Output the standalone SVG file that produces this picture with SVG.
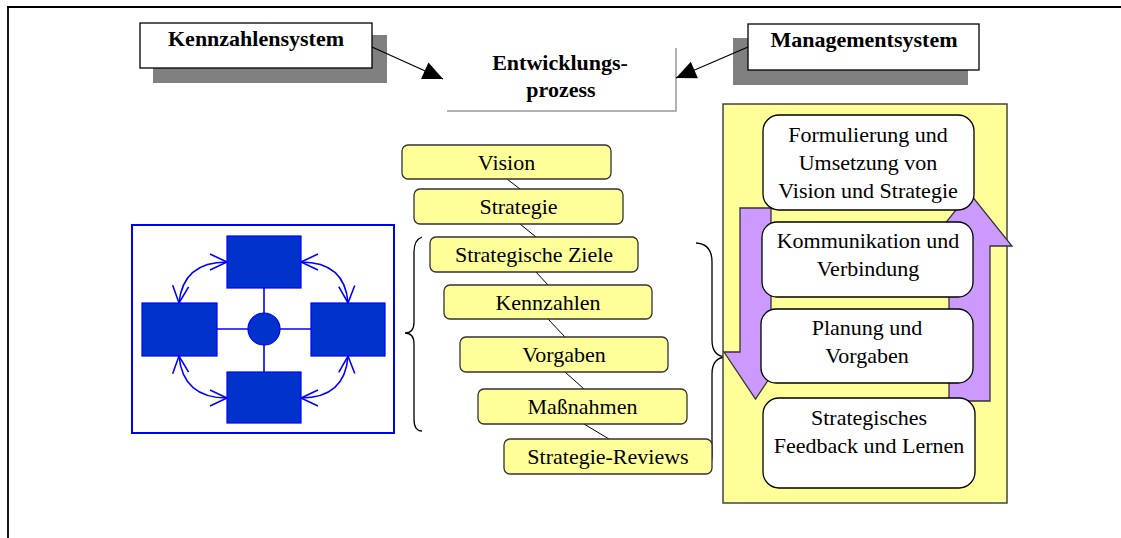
<svg xmlns="http://www.w3.org/2000/svg" width="1121" height="538" viewBox="0 0 1121 538">
  <style>
    text { font-family: "Liberation Serif", "Times New Roman", serif; font-size: 22px; fill: #000; text-anchor: middle; }
    .bold { font-weight: bold; }
    .head { fill: #fff; stroke: #000; stroke-width: 1.3; }
    .shadow { fill: #808080; }
    .step { fill: #ffff99; stroke: #333; stroke-width: 1.3; }
    .phase { fill: #fff; stroke: #000; stroke-width: 1.3; }
    .chain { stroke: #000; stroke-width: 1; fill: none; }
    .brace { stroke: #000; stroke-width: 1.3; fill: none; }
    .blk { fill: #0033cc; stroke: #0000ff; stroke-width: 1.2; }
    .loop { stroke: #0000ff; stroke-width: 1.6; fill: none; marker-start: url(#vee); marker-end: url(#vee); }
    .flow { fill: #cc99ff; stroke: #333; stroke-width: 1.3; }
  </style>
  <defs>
    <marker id="tri" markerUnits="userSpaceOnUse" markerWidth="24" markerHeight="22" viewBox="-22 -11 24 22" refX="0" refY="0" orient="auto">
      <path d="M0,0 L-20,-9 L-20,9 Z" fill="#000"/>
    </marker>
    <marker id="vee" markerUnits="userSpaceOnUse" markerWidth="22" markerHeight="22" viewBox="-20 -11 22 22" refX="0" refY="0" orient="auto-start-reverse">
      <path d="M-17,-8 L0,0 L-17,8" fill="none" stroke="#0000ff" stroke-width="1.6"/>
    </marker>
  </defs>

  <!-- page frame -->
  <g id="frame">
    <line x1="7" y1="7" x2="1121" y2="7" stroke="#000" stroke-width="2.2"/>
    <line x1="8" y1="6" x2="8" y2="538" stroke="#000" stroke-width="1.8"/>
  </g>

  <!-- header boxes -->
  <g id="kennzahlensystem">
    <rect class="shadow" x="153" y="35" width="234" height="48"/>
    <rect class="head" x="140" y="23" width="232" height="45"/>
    <text class="bold" x="256" y="46">Kennzahlensystem</text>
  </g>
  <g id="managementsystem">
    <rect class="shadow" x="733" y="38" width="235" height="47"/>
    <rect class="head" x="748" y="24" width="231" height="46"/>
    <text class="bold" x="864" y="47">Managementsystem</text>
  </g>
  <g id="entwicklungsprozess">
    <path d="M447,111 L676,111 L676,48" fill="none" stroke="#999" stroke-width="1.5"/>
    <text class="bold" x="560" y="70">Entwicklungs-</text>
    <text class="bold" x="561" y="97">prozess</text>
  </g>

  <!-- connectors -->
  <g id="connectors">
    <line x1="372" y1="47" x2="443" y2="79" stroke="#000" stroke-width="1.2" marker-end="url(#tri)"/>
    <line x1="748" y1="47" x2="676" y2="78" stroke="#000" stroke-width="1.2" marker-end="url(#tri)"/>
    <line class="chain" x1="507" y1="179" x2="520" y2="189"/>
    <line class="chain" x1="520" y1="224" x2="536" y2="237"/>
    <line class="chain" x1="536" y1="272" x2="548" y2="285"/>
    <line class="chain" x1="548" y1="319" x2="565" y2="337"/>
    <line class="chain" x1="565" y1="372" x2="584" y2="389"/>
    <line class="chain" x1="584" y1="424" x2="609" y2="439"/>
  </g>

  <!-- network sketch -->
  <g id="network">
    <rect x="132" y="225" width="262" height="208" fill="#fff" stroke="#0000ff" stroke-width="2"/>
    <line x1="264" y1="288" x2="264" y2="372" stroke="#0000ff" stroke-width="1.6"/>
    <line x1="217" y1="329" x2="311" y2="329" stroke="#0000ff" stroke-width="1.6"/>
    <rect class="blk" x="227" y="236" width="74" height="52"/>
    <rect class="blk" x="142" y="303" width="75" height="53"/>
    <rect class="blk" x="311" y="303" width="74" height="53"/>
    <rect class="blk" x="227" y="372" width="74" height="51"/>
    <circle class="blk" cx="264" cy="329" r="16"/>
    <path class="loop" d="M179,303 Q183,262 227,262"/>
    <path class="loop" d="M301,262 Q345,262 348,303"/>
    <path class="loop" d="M179,356 Q183,398 227,398"/>
    <path class="loop" d="M348,356 Q345,398 301,398"/>
  </g>

  <!-- braces -->
  <g id="braces">
    <path class="brace" d="M422,237 Q414,240 414,252 L414,322 Q414,333 405,333 Q414,333 414,344 L414,419 Q414,431 422,431"/>
    <path class="brace" d="M696,243 Q712,244 712,262 L712,340 Q712,357 727,357 Q712,357 712,374 L712,456 Q712,472 697,473"/>
  </g>

  <!-- step chain -->
  <g id="vision"><rect class="step" x="402" y="145" width="209" height="34" rx="6"/><text x="506.5" y="169.5">Vision</text></g>
  <g id="strategie"><rect class="step" x="414" y="189" width="209" height="35" rx="6"/><text x="518.5" y="214">Strategie</text></g>
  <g id="ziele"><rect class="step" x="430" y="237" width="208" height="35" rx="6"/><text x="534" y="262">Strategische Ziele</text></g>
  <g id="kennzahlen"><rect class="step" x="444" y="285" width="208" height="34" rx="6"/><text x="548" y="309.5">Kennzahlen</text></g>
  <g id="vorgaben"><rect class="step" x="460" y="337" width="208" height="35" rx="6"/><text x="564" y="362">Vorgaben</text></g>
  <g id="massnahmen"><rect class="step" x="478" y="389" width="209" height="35" rx="6"/><text x="582.5" y="414">Maßnahmen</text></g>
  <g id="reviews"><rect class="step" x="504" y="439" width="208" height="35" rx="6"/><text x="608" y="464">Strategie-Reviews</text></g>

  <!-- management cycle -->
  <g id="cycle">
    <rect x="723" y="104" width="284" height="399" fill="#ffff99" stroke="#444" stroke-width="1.5"/>
    <path class="flow" d="M740,208 L771,208 L771,352 L787,352 L755.5,399 L724,352 L740,352 Z"/>
    <path class="flow" d="M949,401 L990,401 L990,246 L1012,246 L969.5,193 L927,246 L949,246 Z"/>
  </g>
  <g id="formulierung">
    <rect class="phase" x="763" y="115" width="211" height="95" rx="16"/>
    <text x="868" y="142">Formulierung und</text>
    <text x="868" y="170">Umsetzung von</text>
    <text x="868" y="198">Vision und Strategie</text>
  </g>
  <g id="kommunikation">
    <rect class="phase" x="762" y="222" width="211" height="75" rx="15"/>
    <text x="868" y="248">Kommunikation und</text>
    <text x="868" y="276">Verbindung</text>
  </g>
  <g id="planung">
    <rect class="phase" x="761" y="309" width="212" height="74" rx="15"/>
    <text x="867" y="335">Planung und</text>
    <text x="867" y="363">Vorgaben</text>
  </g>
  <g id="feedback">
    <rect class="phase" x="763" y="398" width="212" height="90" rx="16"/>
    <text x="869" y="425">Strategisches</text>
    <text x="869" y="453">Feedback und Lernen</text>
  </g>
</svg>
